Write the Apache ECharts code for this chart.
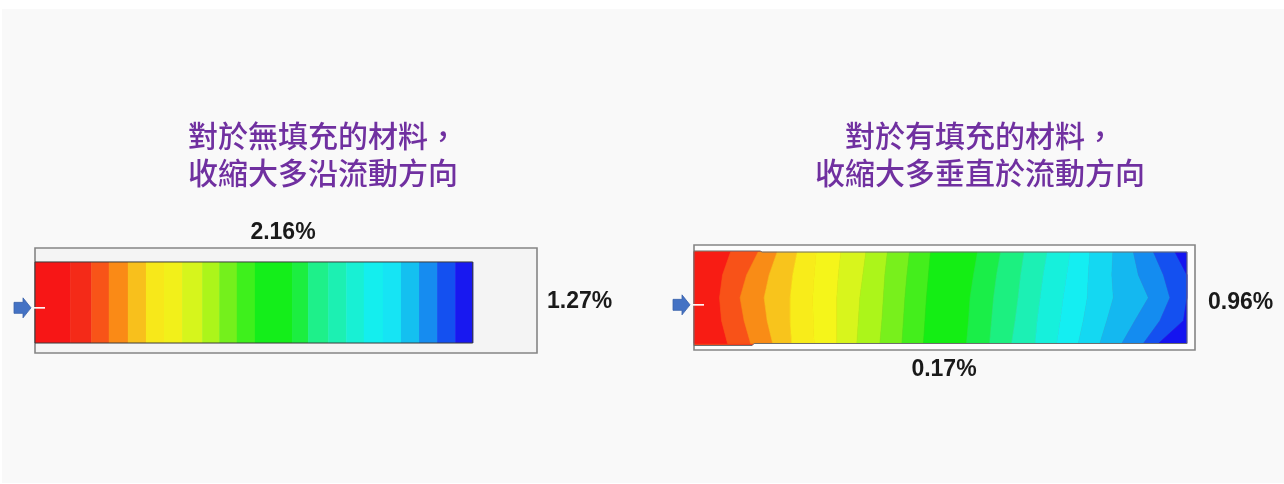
<!DOCTYPE html>
<html><head><meta charset="utf-8">
<script src="https://cdn.jsdelivr.net/npm/echarts@6/dist/echarts.min.js"></script>
<style>html,body{margin:0;padding:0;background:#fff}#c{width:1284px;height:484px}</style>
</head><body><div id="c"></div>
<script>
// ---- texts ----
const titleLeft = ['對於無填充的材料，', '收縮大多沿流動方向'];
const titleRight = ['對於有填充的材料，', '收縮大多垂直於流動方向'];
const leftFlowShrink = '2.16%';
const leftCrossShrink = '1.27%';
const rightCrossShrink = '0.96%';
const rightFlowShrink = '0.17%';

// ---- left panel (unfilled material): straight bands, edges along flow (% of cavity length) ----
const leftBandEdges = [0, 7.0, 11.2, 14.7, 18.5, 22.1, 25.7, 29.3, 33.3, 36.7, 40.2, 43.8, 51.2, 54.4, 58.4, 62.0, 65.5, 69.3, 72.9, 76.5, 80.1, 83.7, 87.2];
const leftBandColors = ['#f71616', '#f42a18', '#f85418', '#fa8a16', '#f8c01c', '#f7e81a', '#f2f01a', '#d6f51c', '#acf51a', '#74f01c', '#3ef01c', '#14ee1a', '#1cee40', '#1ef08a', '#1cf0b2', '#18f0d4', '#14eeee', '#16e4f4', '#14c0f0', '#168cf0', '#1450f0', '#1818f0'];
const leftPartY = [13.3, 90.5]; // % of cavity width

// ---- right panel (filled material): curved band boundaries ----
const rightLevels = [0, 0.25, 0.5, 0.75, 1]; // fraction across the part width (top -> bottom)
const rightBoundaries = [
  [7.3, 5.7, 5.1, 5.5, 6.7],
  [12.8, 10.5, 9.2, 10.0, 11.3],
  [16.6, 15.0, 14.0, 14.6, 15.7],
  [20.6, 19.7, 19.2, 19.2, 19.5],
  [24.4, 24.0, 23.7, 23.8, 24.0],
  [29.3, 28.8, 28.5, 28.5, 28.5],
  [34.3, 33.7, 33.1, 32.8, 32.5],
  [38.6, 38.1, 37.8, 37.5, 37.1],
  [43.0, 42.5, 42.1, 41.8, 41.5],
  [47.2, 46.8, 46.4, 46.1, 45.8],
  [56.6, 55.8, 55.1, 54.8, 54.4],
  [61.2, 60.4, 59.8, 59.4, 59.0],
  [65.9, 65.2, 64.7, 64.1, 63.4],
  [70.5, 69.7, 69.1, 68.5, 68.1],
  [75.1, 74.4, 73.7, 73.1, 72.4],
  [79.0, 78.7, 78.5, 77.7, 76.7],
  [83.6, 83.4, 83.7, 82.4, 81.0],
  [87.7, 88.7, 90.7, 88.0, 85.4],
  [91.7, 93.7, 95.0, 93.0, 89.7],
  [96.0, 98.4, 98.4, 97.7, 92.7]
];
const rightBandColors = ['#f81c14', '#f85218', '#f98c16', '#f8c41c', '#f8ec1a', '#f5f51a', '#d8f51c', '#acf51a', '#78f01c', '#44ee1c', '#14ee14', '#1aee48', '#1cf080', '#1cf0b4', '#16f0dc', '#14eef2', '#14d8f2', '#14b8f0', '#148cf0', '#1450f0', '#1414f0'];
const rightPartY = [6.7, 93.8];
const rightPartEnd = 98.4;
const rightPartOutline = [[0, 5.7], [13.2, 5.7], [13.6, 6.7], [98.4, 6.7], [98.4, 93.8], [12.0, 93.8], [11.6, 95.7], [0, 95.7]];
const gateY = 57;

const chart = echarts.init(document.getElementById('c'), null, {renderer: 'canvas'});

function moldRender(fill) {
  return function (params, api) {
    const a = api.coord([0, 0]), b = api.coord([100, 100]);
    return {type: 'rect', shape: {x: a[0], y: a[1], width: b[0] - a[0], height: b[1] - a[1]},
      style: {fill: fill, stroke: '#858585', lineWidth: 1.6}};
  };
}
function leftBand(params, api) {
  const i = params.dataIndex;
  const a = api.coord([leftBandEdges[i], leftPartY[0]]);
  const b = api.coord([leftBandEdges[i + 1], leftPartY[1]]);
  const c = leftBandColors[i];
  return {type: 'rect', shape: {x: a[0], y: a[1], width: b[0] - a[0] + 0.5, height: b[1] - a[1]},
    style: {fill: c}};
}
function leftPartBorder(params, api) {
  const a = api.coord([0, leftPartY[0]]);
  const b = api.coord([leftBandEdges[leftBandEdges.length - 1], leftPartY[1]]);
  return {type: 'rect', shape: {x: a[0], y: a[1], width: b[0] - a[0], height: b[1] - a[1]},
    style: {fill: null, stroke: '#3a3a3a', lineWidth: 1}};
}
function rightBand(params, api) {
  const i = params.dataIndex;
  const n = rightBoundaries.length;
  const left = i === 0 ? rightLevels.map(() => 0) : rightBoundaries[i - 1];
  const right = i === n ? rightLevels.map(() => rightPartEnd) : rightBoundaries[i];
  const yAt = f => rightPartY[0] + f * (rightPartY[1] - rightPartY[0]);
  const pts = [];
  rightLevels.forEach((f, k) => pts.push(api.coord([left[k], yAt(f)])));
  for (let k = rightLevels.length - 1; k >= 0; k--) pts.push(api.coord([right[k], yAt(rightLevels[k])]));
  const c = rightBandColors[i];
  return {type: 'polygon', shape: {points: pts}, style: {fill: c, stroke: c, lineWidth: 0.6}};
}
function rightOutline(fillMode) {
  return function (params, api) {
    const pts = rightPartOutline.map(p => api.coord(p));
    return {type: 'polygon', shape: {points: pts},
      style: fillMode ? {fill: '#f4401a', stroke: null} : {fill: null, stroke: '#6e6e6e', lineWidth: 1}};
  };
}
function gateRender(params, api) {
  const p = api.coord([api.value(0), api.value(1)]);
  const x = p[0], y = p[1];
  return {type: 'group', children: [
    {type: 'polygon', shape: {points: [[x - 4, y], [x - 12, y - 10], [x - 12, y - 5.5], [x - 21, y - 5.5], [x - 21, y + 5.5], [x - 12, y + 5.5], [x - 12, y + 10]]},
      style: {fill: '#4472c4', stroke: '#3a62ab', lineWidth: 0.8}},
    {type: 'line', shape: {x1: x - 1, y1: y, x2: x + 10, y2: y}, style: {stroke: '#ffffff', lineWidth: 1.6}}
  ]};
}

const titleFont = '500 30px "Noto Sans CJK TC", "Noto Sans CJK SC", sans-serif';
const labelFont = 'bold 23px "Liberation Sans", Arial, sans-serif';
function txt(text, x, y, font, fill, align) {
  return {type: 'text', x: x, y: y, z: 10, style: {text: text, font: font, fill: fill, textAlign: align || 'center', textVerticalAlign: 'middle'}};
}

const option = {
  backgroundColor: '#ffffff',
  animation: false,
  grid: [
    {left: 35, top: 248, width: 502, height: 105},
    {left: 694, top: 245, width: 501, height: 105}
  ],
  xAxis: [
    {type: 'value', gridIndex: 0, min: 0, max: 100, show: false},
    {type: 'value', gridIndex: 1, min: 0, max: 100, show: false}
  ],
  yAxis: [
    {type: 'value', gridIndex: 0, min: 0, max: 100, inverse: true, show: false},
    {type: 'value', gridIndex: 1, min: 0, max: 100, inverse: true, show: false}
  ],
  graphic: [
    {type: 'rect', z: -10, shape: {x: 2, y: 9, width: 1282, height: 474}, style: {fill: '#f9f9f9'}},
    txt(titleLeft[0], 323, 136, titleFont, '#7030a0'),
    txt(titleLeft[1], 323, 173, titleFont, '#7030a0'),
    txt(titleRight[0], 980, 136, titleFont, '#7030a0'),
    txt(titleRight[1], 980, 173, titleFont, '#7030a0'),
    txt(leftFlowShrink, 283, 233, labelFont, '#1a1a1a'),
    txt(leftCrossShrink, 547, 302, labelFont, '#1a1a1a', 'left'),
    txt(rightCrossShrink, 1208, 303, labelFont, '#1a1a1a', 'left'),
    txt(rightFlowShrink, 944, 370, labelFont, '#1a1a1a')
  ],
  series: [
    {type: 'custom', xAxisIndex: 0, yAxisIndex: 0, z: 1, data: [0], renderItem: moldRender('#f4f4f4'), silent: true},
    {type: 'custom', xAxisIndex: 0, yAxisIndex: 0, z: 2, data: leftBandColors.map((c, i) => i), renderItem: leftBand, silent: true},
    {type: 'custom', xAxisIndex: 0, yAxisIndex: 0, z: 3, data: [0], renderItem: leftPartBorder, silent: true},
    {type: 'custom', xAxisIndex: 0, yAxisIndex: 0, z: 4, data: [[0, gateY]], renderItem: gateRender, silent: true},
    {type: 'custom', xAxisIndex: 1, yAxisIndex: 1, z: 1, data: [0], renderItem: moldRender('#fdfdfd'), silent: true},
    {type: 'custom', xAxisIndex: 1, yAxisIndex: 1, z: 1.5, data: [0], renderItem: rightOutline(true), silent: true},
    {type: 'custom', xAxisIndex: 1, yAxisIndex: 1, z: 2, data: rightBandColors.map((c, i) => i), renderItem: rightBand, silent: true},
    {type: 'custom', xAxisIndex: 1, yAxisIndex: 1, z: 3, data: [0], renderItem: rightOutline(false), silent: true},
    {type: 'custom', xAxisIndex: 1, yAxisIndex: 1, z: 4, data: [[0, gateY]], renderItem: gateRender, silent: true}
  ]
};
chart.setOption(option);
</script></body></html>
